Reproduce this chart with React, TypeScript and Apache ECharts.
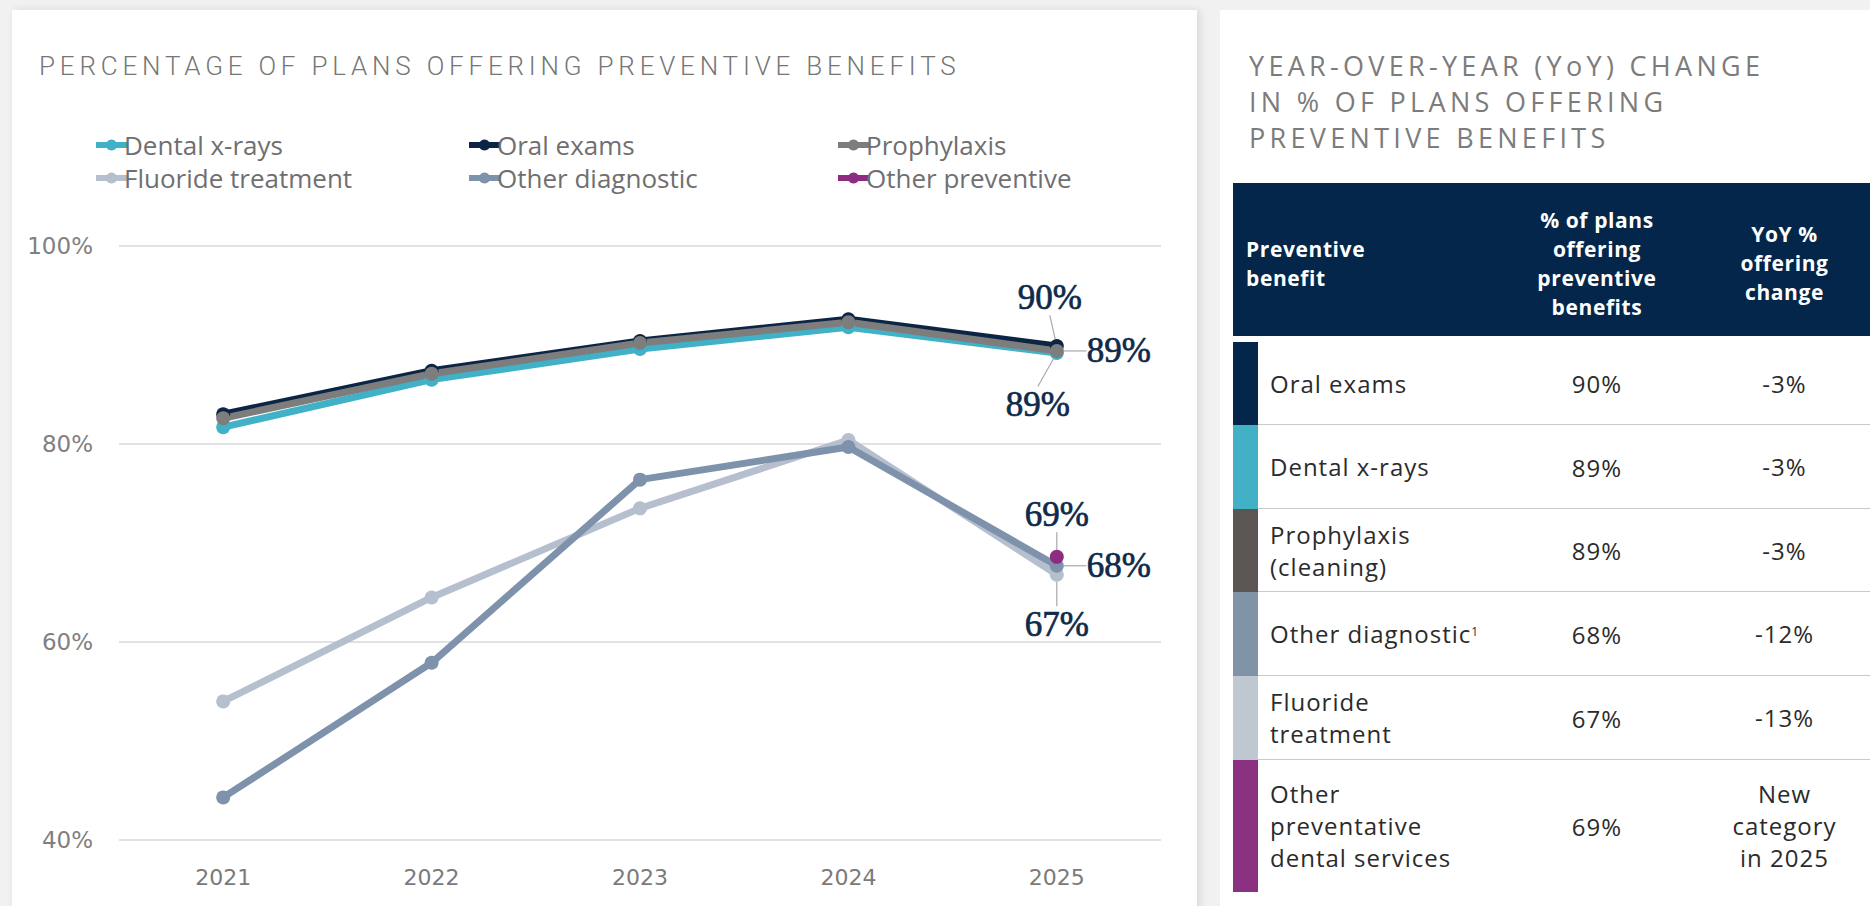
import React, { useEffect, useRef } from "react";
import * as echarts from "echarts";

// ---------- chart data ----------
const years = ["2021", "2022", "2023", "2024", "2025"];
const dentalXrays = [81.7, 86.5, 89.6, 91.8, 89.2];
const oralExams = [83.0, 87.4, 90.4, 92.6, 89.9];
const prophylaxis = [82.6, 87.1, 90.2, 92.3, 89.4];
const fluorideTreatment = [54.0, 64.5, 73.5, 80.4, 66.8];
const otherDiagnostic = [44.3, 57.9, 76.4, 79.7, 67.7];
const otherPreventive = [null, null, null, null, 68.6];

const seriesNames = [
  "Dental x-rays",
  "Oral exams",
  "Prophylaxis",
  "Fluoride treatment",
  "Other diagnostic",
  "Other preventive",
];
const seriesValues = [dentalXrays, oralExams, prophylaxis, fluorideTreatment, otherDiagnostic, otherPreventive];
const seriesColors = ["#40b1c7", "#0c2545", "#7d7d7d", "#b5bfce", "#7e93ab", "#8c2d82"];
const endLabelPositions = ["bottom", "top", "right", "bottom", "right", "top"];
const endLabelDistances = [27, 24, 23, 25, 23, 18];
const endLabelShiftX = [-19, -7, 0, 0, 0, 0];

const yMin = 40;
const yMax = 100;
const yStep = 20;

// ---------- table data ----------
const tableHeaders = ["Preventive\nbenefit", "% of plans\noffering\npreventive\nbenefits", "YoY %\noffering\nchange"];
const tableBenefits = [
  "Oral exams",
  "Dental x-rays",
  "Prophylaxis\n(cleaning)",
  "Other diagnostic",
  "Fluoride\ntreatment",
  "Other\npreventative\ndental services",
];
const tableFootnotes = ["", "", "", "1", "", ""];
const tableShares = ["90%", "89%", "89%", "68%", "67%", "69%"];
const tableChanges = ["-3%", "-3%", "-3%", "-12%", "-13%", "New\ncategory\nin 2025"];
const tableColors = ["#03264a", "#42b1c6", "#5b5654", "#8193a7", "#bfc8d1", "#8a3181"];
const tableRowHeights = [83, 84, 83, 84, 84, 132];

const chartTitle = "PERCENTAGE OF PLANS OFFERING PREVENTIVE BENEFITS";
const tableTitle = "YEAR-OVER-YEAR (YoY) CHANGE\nIN % OF PLANS OFFERING\nPREVENTIVE BENEFITS";

const legendLefts = [88, 461, 830, 88, 461, 830];
const legendTops = [127, 127, 127, 160, 160, 160];

function ChartPanel() {
  const ref = useRef<HTMLDivElement>(null);
  useEffect(() => {
    if (!ref.current) return;
    const chart = echarts.init(ref.current, undefined, { renderer: "svg" });
    const series = seriesNames.map((name, i) => {
      const vals = seriesValues[i];
      const lastIdx = vals.length - 1;
      const pos = endLabelPositions[i];
      const dx = endLabelShiftX[i];
      return {
        name,
        type: "line",
        symbol: "circle",
        symbolSize: 14,
        showSymbol: true,
        connectNulls: false,
        lineStyle: { width: 7, color: seriesColors[i] },
        itemStyle: { color: seriesColors[i] },
        labelLine: { show: true, lineStyle: { color: "#a9a9a9", width: 1.2 } },
        labelLayout: (p: any) => {
          if (!p.labelRect || !p.rect) return {};
          const cx = p.rect.x + p.rect.width / 2;
          const cy = p.rect.y + p.rect.height / 2;
          const r = p.rect.width / 2;
          const lr = p.labelRect;
          let a: number[];
          let b: number[];
          if (pos === "top") {
            a = [lr.x + dx + lr.width / 2, lr.y + lr.height + 1];
            b = [cx, cy - r];
          } else if (pos === "bottom") {
            a = [lr.x + dx + lr.width / 2, lr.y + 3];
            b = [cx, cy + r];
          } else {
            a = [lr.x + dx - 2, cy];
            b = [cx + r, cy];
          }
          return { dx, labelLinePoints: [a, [(a[0] + b[0]) / 2, (a[1] + b[1]) / 2], b] };
        },
        data: vals.map((v, j) =>
          j === lastIdx && v != null
            ? {
                value: v,
                label: {
                  show: true,
                  position: pos,
                  distance: endLabelDistances[i],
                  formatter: (p: any) => Math.round(p.value) + "%",
                  color: "#0f2a4a",
                  textBorderColor: "#0f2a4a",
                  textBorderWidth: 0.7,
                  fontFamily: "'Liberation Serif', 'DejaVu Serif', serif",
                  fontSize: 35,
                },
              }
            : v
        ),
      };
    });
    const legends = seriesNames.map((name, i) => ({
      left: legendLefts[i],
      top: legendTops[i],
      itemWidth: 31,
      itemHeight: 14,
      itemGap: 0,
      data: [name],
      selectedMode: false,
      lineStyle: { width: 6 },
      textStyle: {
        color: "#6f6f6f",
        fontSize: 26,
        fontFamily: "'Open Sans', sans-serif",
        padding: [0, 0, 0, -8],
      },
    }));
    chart.setOption({
      animation: false,
      backgroundColor: "transparent",
      legend: legends,
      grid: { left: 119, right: 39, top: 246, bottom: 66, containLabel: false },
      xAxis: {
        type: "category",
        data: years,
        boundaryGap: true,
        axisLine: { show: false },
        axisTick: { show: false },
        axisLabel: {
          color: "#7a7a7a",
          fontSize: 22,
          fontFamily: "'DejaVu Sans', sans-serif",
          margin: 26,
        },
      },
      yAxis: {
        type: "value",
        min: yMin,
        max: yMax,
        interval: yStep,
        axisLine: { show: false },
        axisTick: { show: false },
        axisLabel: {
          formatter: "{value}%",
          color: "#808080",
          fontSize: 23,
          fontFamily: "'DejaVu Sans', sans-serif",
          margin: 26,
        },
        splitLine: { lineStyle: { color: "#d9d9d9", width: 1.5 } },
      },
      series,
    });
    return () => chart.dispose();
  }, []);
  return <div ref={ref} style={{ position: "absolute", left: 0, top: 0, width: 1200, height: 906 }} />;
}

export default function App() {
  const bodyFont = "'Open Sans', 'Noto Sans', sans-serif";
  let rowTop = 342;
  const rows = tableBenefits.map((b, i) => {
    const top = rowTop;
    rowTop += tableRowHeights[i];
    const h = tableRowHeights[i];
    return (
      <div key={i} style={{ position: "absolute", left: 1233, top, width: 637, height: h }}>
        <div style={{ position: "absolute", left: 0, top: 0, width: 25, height: h, background: tableColors[i] }} />
        <div
          style={{
            position: "absolute",
            left: 25,
            right: 0,
            bottom: 0,
            height: 1.5,
            background: i === tableBenefits.length - 1 ? "transparent" : "#c9c9c9",
          }}
        />
        <div
          style={{
            position: "absolute",
            left: 37,
            top: 0,
            height: h,
            width: 230,
            display: "flex",
            alignItems: "center",
            whiteSpace: "pre-line",
            fontFamily: bodyFont,
            fontSize: 24,
            lineHeight: "32px",
            letterSpacing: 1,
            color: "#2b2b2b",
          }}
        >
          <span>
            {b}
            {tableFootnotes[i] ? (
              <sup style={{ fontSize: 12, verticalAlign: "top", position: "relative", top: -2 }}>{tableFootnotes[i]}</sup>
            ) : null}
          </span>
        </div>
        <div
          style={{
            position: "absolute",
            left: 262,
            width: 204,
            top: 0,
            height: h,
            display: "flex",
            alignItems: "center",
            justifyContent: "center",
            fontFamily: bodyFont,
            fontSize: 24,
            letterSpacing: 1,
            color: "#2b2b2b",
          }}
        >
          {tableShares[i]}
        </div>
        <div
          style={{
            position: "absolute",
            left: 466,
            width: 171,
            top: 0,
            height: h,
            display: "flex",
            alignItems: "center",
            justifyContent: "center",
            textAlign: "center",
            whiteSpace: "pre-line",
            fontFamily: bodyFont,
            fontSize: 24,
            lineHeight: "32px",
            letterSpacing: 1,
            color: "#2b2b2b",
          }}
        >
          {tableChanges[i]}
        </div>
      </div>
    );
  });

  const headerCell = (text: string, left: number, width: number, align: "left" | "center") => (
    <div
      style={{
        position: "absolute",
        left,
        width,
        top: 4,
        height: 153,
        display: "flex",
        alignItems: "center",
        justifyContent: align === "left" ? "flex-start" : "center",
        textAlign: align,
        whiteSpace: "pre-line",
        fontFamily: bodyFont,
        fontWeight: 700,
        fontSize: 21,
        lineHeight: "29px",
        letterSpacing: 0.6,
        color: "#ffffff",
      }}
    >
      {text}
    </div>
  );

  return (
    <div
      style={{
        position: "fixed",
        left: 0,
        top: 0,
        width: 1870,
        height: 906,
        background: "#f1f1f1",
        overflow: "hidden",
      }}
    >
      <div
        style={{
          position: "absolute",
          left: 12,
          top: 10,
          width: 1185,
          height: 920,
          background: "#ffffff",
          boxShadow: "3px 0 8px rgba(0,0,0,0.10)",
        }}
      />
      <div
        style={{
          position: "absolute",
          left: 1220,
          top: 10,
          width: 660,
          height: 920,
          background: "#ffffff",
        }}
      />
      <div
        style={{
          position: "absolute",
          left: 39,
          top: 53,
          whiteSpace: "nowrap",
          fontFamily: "Roboto, sans-serif",
          fontWeight: 300,
          fontSize: 26,
          lineHeight: "26px",
          letterSpacing: 4.8,
          color: "#767676",
        }}
      >
        {chartTitle}
      </div>
      <ChartPanel />
      <div
        style={{
          position: "absolute",
          left: 1249,
          top: 48,
          whiteSpace: "pre-line",
          fontFamily: bodyFont,
          fontSize: 27,
          lineHeight: "36px",
          letterSpacing: 4.3,
          color: "#7c7c7c",
        }}
      >
        {tableTitle}
      </div>
      <div style={{ position: "absolute", left: 1233, top: 183, width: 637, height: 153, background: "#03264a" }}>
        {headerCell(tableHeaders[0], 13, 240, "left")}
        {headerCell(tableHeaders[1], 262, 204, "center")}
        {headerCell(tableHeaders[2], 466, 171, "center")}
      </div>
      {rows}
    </div>
  );
}
